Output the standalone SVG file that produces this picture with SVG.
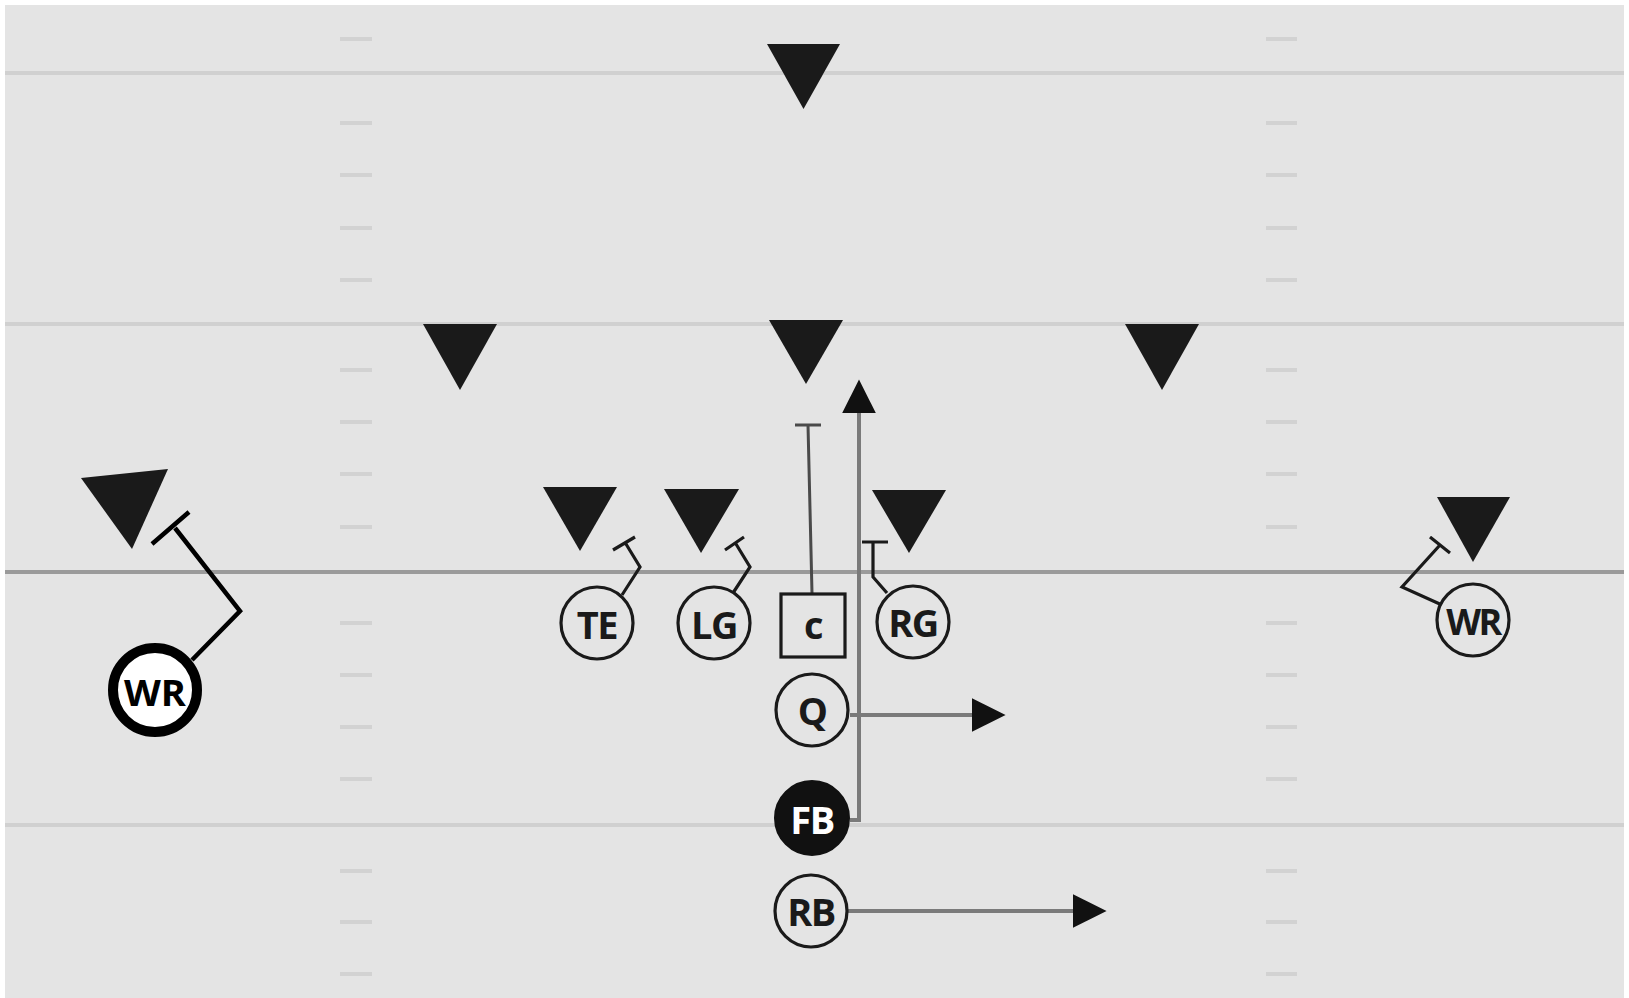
<svg xmlns="http://www.w3.org/2000/svg" width="1629" height="998" viewBox="0 0 1629 998">
<style>
.field{fill:#e4e4e4}
.yard{stroke:#d0d0d0;stroke-width:4}
.los{stroke:#9a9a9a;stroke-width:4}
.hash{stroke:#d2d2d2;stroke-width:4}
.def{fill:#1a1a1a}
.pl{fill:#e4e4e4;stroke:#1a1a1a;stroke-width:3.2}
.lbl{font-family:"Open Sans","Liberation Sans",sans-serif;font-weight:700;font-size:38px;fill:#1a1a1a;text-anchor:middle;dominant-baseline:central;letter-spacing:-1.5px}
.blk{fill:none;stroke:#1a1a1a;stroke-width:3.2;stroke-linejoin:miter}
.run{fill:none;stroke:#7a7a7a;stroke-width:4}
</style>
<defs>
<marker id="arr" viewBox="0 0 10 10" refX="1" refY="5" markerWidth="8.5" markerHeight="9.5" markerUnits="strokeWidth" orient="auto">
<path d="M0,0 L10,5 L0,10 z" fill="#111"/>
</marker>
</defs>
<rect x="0" y="0" width="1629" height="998" fill="#ffffff"/>
<rect class="field" x="5" y="5" width="1619" height="993"/>
<g id="field-lines">
<line class="yard" x1="5" y1="73" x2="1624" y2="73"/>
<line class="yard" x1="5" y1="324" x2="1624" y2="324"/>
<line class="yard" x1="5" y1="825" x2="1624" y2="825"/>
<line class="los" x1="5" y1="572" x2="1624" y2="572"/>
</g>
<g id="hashes">
<path class="hash" d="M340,39h32M340,123h32M340,175h32M340,228h32M340,280h32M340,370h32M340,422h32M340,474h32M340,527h32M340,623h32M340,675h32M340,727h32M340,779h32M340,871h32M340,922h32M340,974h32"/>
<path class="hash" d="M1266,39h31M1266,123h31M1266,175h31M1266,228h31M1266,280h31M1266,370h31M1266,422h31M1266,474h31M1266,527h31M1266,623h31M1266,675h31M1266,727h31M1266,779h31M1266,871h31M1266,922h31M1266,974h31"/>
</g>
<g id="defense">
<polygon id="d-deep" class="def" points="767,44 840,44 803.5,109"/>
<polygon id="d-lb-left" class="def" points="423,324 497,324 460,390"/>
<polygon id="d-lb-mid" class="def" points="769,320 843,320 806,384"/>
<polygon id="d-lb-right" class="def" points="1125,324 1199,324 1162,390"/>
<polygon id="d-te" class="def" points="543,487 617,487 580,551"/>
<polygon id="d-lg" class="def" points="664,489 739,489 701,553"/>
<polygon id="d-rg" class="def" points="872,490 946,490 909,553"/>
<polygon id="d-wr-right" class="def" points="1437,497 1510,497 1473,562"/>
<polygon id="d-wr-left" class="def" points="81,478 168,469 132,549"/>
</g>
<g id="connectors">
<path class="blk" style="stroke-width:4.5;stroke:#000" d="M192,660 L240,611 L175,528 M152,544 L189,512"/>
<path class="blk" d="M622,595 L640,567 L626,544 M613,550 L635,537"/>
<path class="blk" d="M733,593 L750,567 L736,544 M725,550 L744,537"/>
<path class="run" style="stroke:#4a4a4a;stroke-width:3" d="M812,593 L808,425 M795,425 L821,425"/>
<path class="blk" d="M887,593 L873,577 L873,542 M862,542 L888,542"/>
<path class="run" d="M850,820 L859,820 L859,410" marker-end="url(#arr)"/>
<path class="run" d="M850,715 L975,715" marker-end="url(#arr)"/>
<path class="run" d="M848,911 L1076,911" marker-end="url(#arr)"/>
<path class="blk" d="M1442,605 L1402,587 L1440,545 M1430,537 L1450,553"/>
</g>
<g id="p-wr-left">
<circle cx="155" cy="690" r="42" fill="#ffffff" stroke="#000" stroke-width="10"/>
<text class="lbl" x="155" y="692" textLength="62" lengthAdjust="spacingAndGlyphs" style="font-size:36px;letter-spacing:0;fill:#000">WR</text>
</g>
<g id="p-te">
<circle class="pl" cx="597" cy="623" r="36"/>
<text class="lbl" x="597" y="624">TE</text>
</g>
<g id="p-lg">
<circle class="pl" cx="714" cy="623" r="36"/>
<text class="lbl" x="714" y="624">LG</text>
</g>
<g id="p-c">
<rect class="pl" x="781" y="594" width="64" height="63"/>
<text class="lbl" x="813" y="624">c</text>
</g>
<g id="p-rg">
<circle class="pl" cx="913" cy="622" r="36"/>
<text class="lbl" x="913" y="622">RG</text>
</g>
<g id="p-wr-right">
<circle class="pl" cx="1473" cy="620" r="36"/>
<text class="lbl" x="1473" y="621" style="font-size:36px;letter-spacing:-2.5px">WR</text>
</g>
<g id="p-q">
<circle class="pl" cx="812" cy="710" r="36"/>
<text class="lbl" x="812" y="710">Q</text>
</g>
<g id="p-fb">
<circle cx="812" cy="818" r="37" fill="#111" stroke="#111" stroke-width="2"/>
<text class="lbl" x="812" y="819" style="fill:#ffffff">FB</text>
</g>
<g id="p-rb">
<circle class="pl" cx="811" cy="911" r="36"/>
<text class="lbl" x="811" y="911">RB</text>
</g>
</svg>
